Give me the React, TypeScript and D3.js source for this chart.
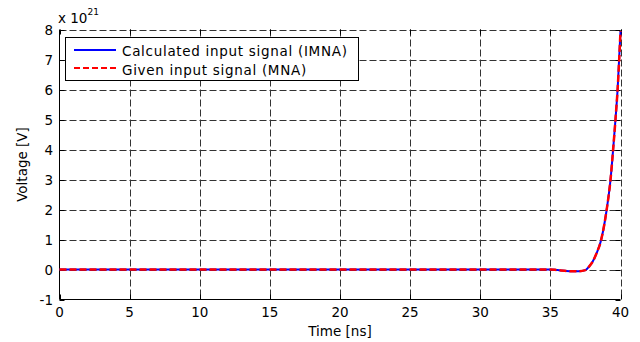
import React from "react";
import * as d3 from "d3";

// Time axis [ns] and signal samples (units of 1e21 V)
const timeNs = [0, 5, 10, 15, 20, 25, 30, 35, 35.5, 36, 36.5, 37, 37.5, 37.8, 38, 38.3, 38.6, 39, 39.3, 39.5, 39.65, 39.8, 40];
const calculatedV = [0, 0, 0, 0, 0, 0, 0, 0, -0.02, -0.04, -0.06, -0.06, -0.02, 0.12, 0.25, 0.55, 0.95, 1.95, 3.05, 4.15, 5.05, 6.05, 7.95];
const givenV = [0, 0, 0, 0, 0, 0, 0, 0, -0.02, -0.04, -0.06, -0.06, -0.02, 0.12, 0.25, 0.55, 0.95, 1.95, 3.05, 4.15, 5.05, 6.05, 7.95];

const xTicks = [0, 5, 10, 15, 20, 25, 30, 35, 40];
const yTicks = [-1, 0, 1, 2, 3, 4, 5, 6, 7, 8];
const legendLabels = ["Calculated input signal (IMNA)", "Given input signal (MNA)"];

const W = 640;
const H = 342;
const FONT = "'DejaVu Sans', Verdana, sans-serif";

export default function App() {
  const left = 59.5;
  const right = 620.5;
  const top = 29.5;
  const bottom = 299.5;

  const x = d3.scaleLinear().domain([0, 40]).range([left, right]);
  const y = d3.scaleLinear().domain([-1, 8]).range([bottom, top]);

  const line = d3
    .line<number>()
    .x((_, i) => x(timeNs[i]))
    .y((d) => y(d))
    .curve(d3.curveMonotoneX);

  const gridColor = "#333";

  return (
    <svg
      width={W}
      height={H}
      style={{ position: "absolute", left: 0, top: 0, background: "#fff" }}
      fontFamily={FONT}
    >
      <rect x={0} y={0} width={W} height={H} fill="#fff" />

      {/* grid */}
      <g stroke={gridColor} strokeWidth={1} strokeDasharray="7,3" fill="none">
        {xTicks.slice(1).map((t) => (
          <line key={"gx" + t} x1={Math.round(x(t)) + 0.5} x2={Math.round(x(t)) + 0.5} y1={top} y2={bottom} />
        ))}
        {yTicks.slice(1).map((t) => (
          <line key={"gy" + t} x1={left} x2={right} y1={Math.round(y(t)) + 0.5} y2={Math.round(y(t)) + 0.5} />
        ))}
      </g>

      {/* axes box: solid left & bottom, ticks on all sides */}
      <g stroke="#000" strokeWidth={1} fill="none">
        <line x1={left} x2={left} y1={top} y2={bottom} />
        <line x1={left} x2={right} y1={bottom} y2={bottom} />
        {xTicks.map((t) => (
          <g key={"tx" + t}>
            <line x1={Math.round(x(t)) + 0.5} x2={Math.round(x(t)) + 0.5} y1={bottom} y2={bottom - 5} />
            <line x1={Math.round(x(t)) + 0.5} x2={Math.round(x(t)) + 0.5} y1={top} y2={top + 5} />
          </g>
        ))}
        {yTicks.map((t) => (
          <g key={"ty" + t}>
            <line x1={left} x2={left + 5} y1={Math.round(y(t)) + 0.5} y2={Math.round(y(t)) + 0.5} />
            <line x1={right} x2={right - 5} y1={Math.round(y(t)) + 0.5} y2={Math.round(y(t)) + 0.5} />
          </g>
        ))}
      </g>

      {/* tick labels */}
      <g fontSize={13.5} fill="#000">
        {xTicks.map((t) => (
          <text key={"lx" + t} x={x(t)} y={317} textAnchor="middle">
            {t}
          </text>
        ))}
        {yTicks.map((t) => (
          <text key={"ly" + t} x={53} y={y(t) + 5} textAnchor="end">
            {t}
          </text>
        ))}
      </g>

      {/* exponent */}
      <text x={58} y={23} fontSize={13.5} fill="#000">
        x 10
        <tspan fontSize={9} dy={-8}>21</tspan>
      </text>

      {/* axis titles */}
      <text x={(left + right) / 2} y={336} textAnchor="middle" fontSize={13.5} fill="#000">
        Time [ns]
      </text>
      <text
        transform={`translate(${27},${(top + bottom) / 2}) rotate(-90)`}
        textAnchor="middle"
        fontSize={13.5}
        fill="#000"
      >
        Voltage [V]
      </text>

      {/* series */}
      <path d={line(calculatedV) || ""} fill="none" stroke="#0000ff" strokeWidth={2} />
      <path d={line(givenV) || ""} fill="none" stroke="#ff0000" strokeWidth={2.5} strokeDasharray="7,3" />

      {/* legend */}
      <g>
        <rect x={65.5} y={37.5} width={293} height={43} fill="#fff" stroke="#000" strokeWidth={1} />
        <line x1={74} x2={116} y1={50} y2={50} stroke="#0000ff" strokeWidth={2} />
        <line x1={74} x2={116} y1={68} y2={68} stroke="#ff0000" strokeWidth={2} strokeDasharray="6,3" />
        <text x={122} y={56} fontSize={13.5} letterSpacing={0.7} fill="#000">{legendLabels[0]}</text>
        <text x={122} y={75} fontSize={13.5} letterSpacing={0.7} fill="#000">{legendLabels[1]}</text>
      </g>
    </svg>
  );
}
